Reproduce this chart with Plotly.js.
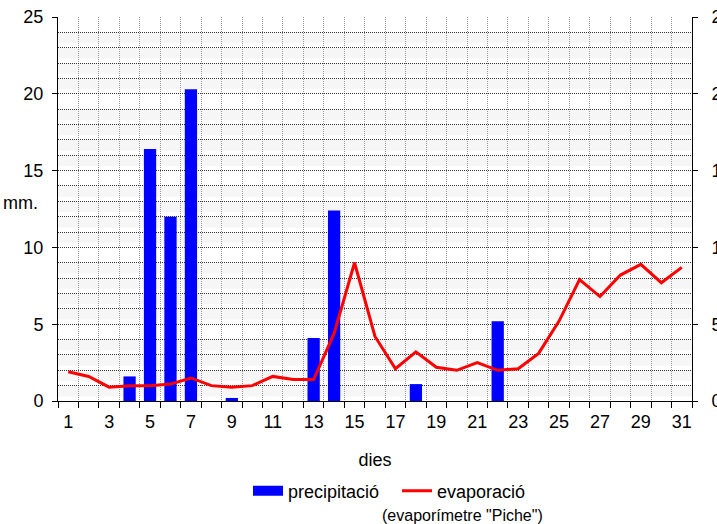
<!DOCTYPE html>
<html>
<head>
<meta charset="utf-8">
<script src="https://cdn.plot.ly/plotly-3.0.1.min.js"></script>
<style>html,body{margin:0;padding:0;background:#fff;}#chart{width:717px;height:524px;}</style>
</head>
<body>
<div id="chart"></div>
<script>
const days = [1,2,3,4,5,6,7,8,9,10,11,12,13,14,15,16,17,18,19,20,21,22,23,24,25,26,27,28,29,30,31];
const precipitacio = [0,0,0,1.6,16.4,12.0,20.3,0,0.2,0,0,0,4.1,12.4,0,0,0,1.1,0,0,0,5.2,0,0,0,0,0,0,0,0,0];
const evaporacio = [1.9,1.6,0.9,1.0,1.0,1.1,1.5,1.0,0.9,1.0,1.6,1.4,1.4,4.4,9.0,4.2,2.1,3.2,2.2,2.0,2.5,2.0,2.1,3.1,5.2,7.9,6.8,8.2,8.9,7.7,8.7];
const xTickVals = [1,3,5,7,9,11,13,15,17,19,21,23,25,27,29,31];
const xTickText = ['1','3','5','7','9','11','13','15','17','19','21','23','25','27','29','31'];
const yTicks = [0,5,10,15,20,25];

const FONT = 'Liberation Sans, Arial, sans-serif';

// subtle background stripes
const shapes = [];
for (let v = 0; v < 25; v++) {
  if ((v + 1) % 5 === 0) continue;
  shapes.push({type:'rect', xref:'paper', yref:'y', x0:0, x1:1, y0:v + 0.3, y1:v + 1, fillcolor:'#f6f6f6', line:{width:0}, layer:'below'});
}

const traces = [
  {type:'bar', x:days, y:precipitacio, name:'precipitació', marker:{color:'#0000FF'}, width:0.6, yaxis:'y', showlegend:false},
  {type:'scatter', mode:'lines', x:[null], y:[null], name:'precipitació', line:{color:'#0000FF', width:10}, yaxis:'y', hoverinfo:'skip'},
  {type:'scatter', mode:'lines', x:days, y:evaporacio, name:'evaporació', line:{color:'#FF0000', width:3}, yaxis:'y2'}
];

const layout = {
  width:717, height:524,
  margin:{l:58, r:25, t:17, b:123},
  paper_bgcolor:'#ffffff', plot_bgcolor:'#ffffff',
  font:{family:FONT, size:18, color:'#000'},
  showlegend:true,
  legend:{orientation:'h', x:(248-58)/634, xanchor:'left', y:(401-491)/384, yanchor:'middle', font:{family:FONT, size:18}, entrywidth:104, entrywidthmode:'pixels', tracegroupgap:0, bgcolor:'rgba(0,0,0,0)'},
  xaxis:{
    range:[0.5,31.5], tickmode:'array', tickvals:xTickVals, ticktext:xTickText,
    ticks:'', showgrid:false, zeroline:false, showline:true, linecolor:'#000', linewidth:1,
    tickfont:{family:FONT, size:18}, ticklabelstandoff:4,
    minor:{tick0:0.5, dtick:1, ticks:'outside', ticklen:6, tickcolor:'#000', showgrid:true, gridcolor:'#999', griddash:'1px,1px', gridwidth:1},
    title:{text:'dies', font:{family:FONT, size:18}, standoff:22}
  },
  yaxis:{
    range:[0,25], tickmode:'array', tickvals:yTicks, ticks:'outside', ticklen:5, tickcolor:'#000',
    showline:true, linecolor:'#000', linewidth:1, zeroline:false,
    showgrid:true, gridcolor:'#333', griddash:'1px,1px', gridwidth:1,
    minor:{dtick:1, tick0:0, showgrid:true, gridcolor:'#333', griddash:'1px,1px', gridwidth:1, ticks:''},
    tickfont:{family:FONT, size:18}, ticklabelstandoff:5
  },
  yaxis2:{
    range:[0,25], overlaying:'y', side:'right', tickmode:'array', tickvals:yTicks, ticks:'outside', ticklen:5, tickcolor:'#000',
    showline:true, linecolor:'#000', linewidth:1, zeroline:false, showgrid:false,
    tickfont:{family:FONT, size:18}, ticklabelstandoff:10
  },
  shapes:shapes,
  annotations:[
    {xref:'paper', yref:'paper', x:(20-58)/634, y:(401-203)/384, xanchor:'center', yanchor:'middle', text:'mm.', showarrow:false, font:{family:FONT, size:18}},
    {xref:'paper', yref:'paper', x:(462-58)/634, y:(401-515)/384, xanchor:'center', yanchor:'middle', text:'(evaporímetre "Piche")', showarrow:false, font:{family:FONT, size:16}}
  ]
};

Plotly.newPlot('chart', traces, layout, {displayModeBar:false, staticPlot:true});
</script>
</body>
</html>
